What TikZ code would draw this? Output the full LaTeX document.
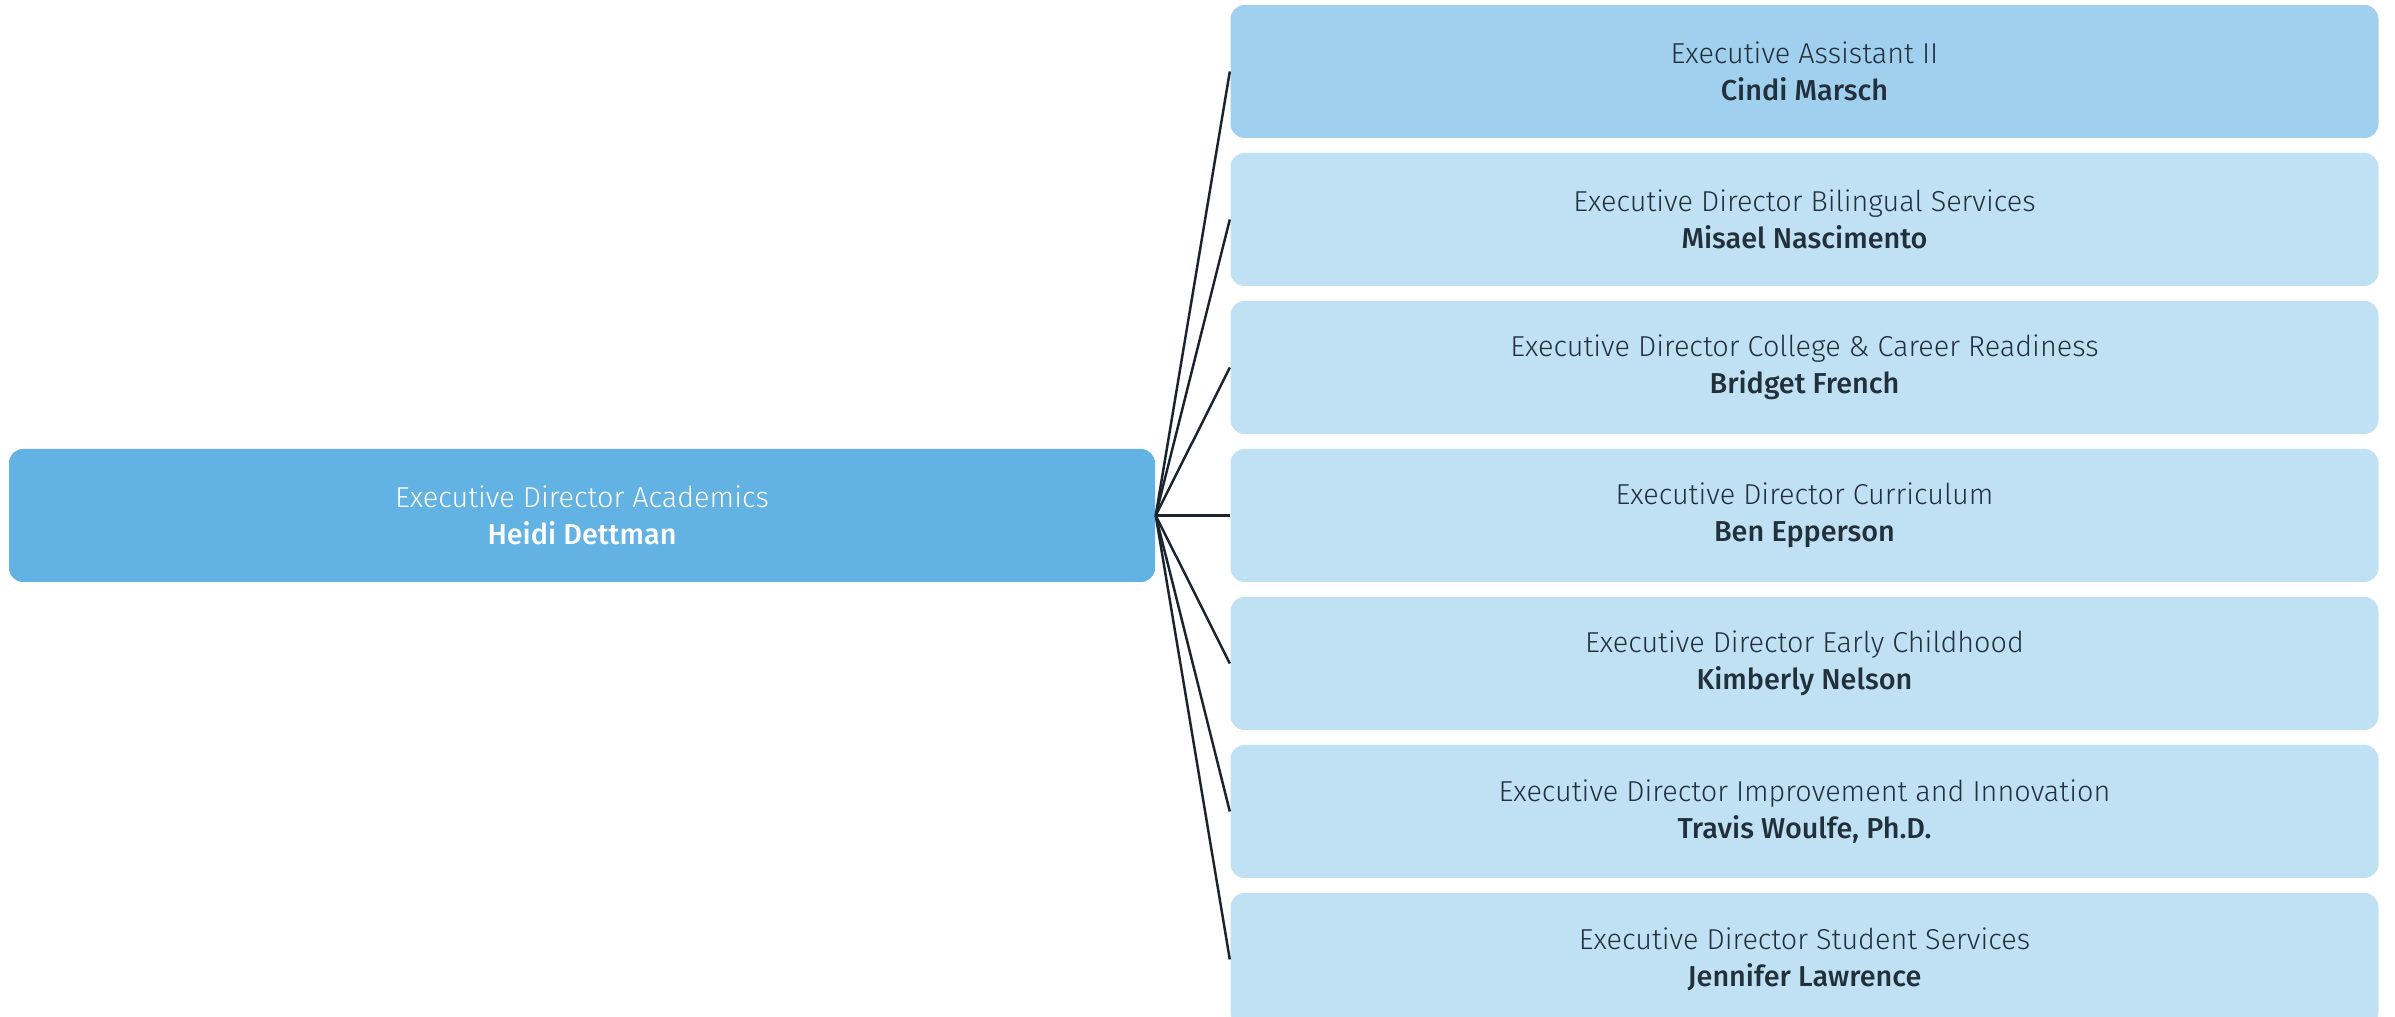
\documentclass[tikz,border=0pt]{standalone}
\usepackage{fontspec}
\setmainfont{Fira Sans}[UprightFont={* Light},BoldFont={* Medium}]
\usepackage{tikz}
\usetikzlibrary{shapes}

\definecolor{rootblue}{HTML}{62B2E3}
\definecolor{assistblue}{HTML}{A0D0EE}
\definecolor{childblue}{HTML}{C0E1F4}
\definecolor{inkdark}{HTML}{22303C}
\definecolor{linkdark}{HTML}{1A242E}

\tikzset{
  orgbox/.style={shape=rectangle,rounded corners=0.14cm,align=center,
    minimum width=11.48cm,minimum height=1.33cm,inner sep=0pt,
    font=\fontsize{8.2}{10.6}\selectfont},
  rootbox/.style={orgbox,minimum width=11.46cm,fill=rootblue,text=white},
  assistbox/.style={orgbox,fill=assistblue,text=inkdark},
  childbox/.style={orgbox,fill=childblue,text=inkdark},
  link/.style={-,draw=linkdark,line width=0.7pt}
}

\begin{document}
\begin{tikzpicture}
\useasboundingbox (0,0) rectangle (23.95,10.17);
\clip (0,0) rectangle (23.95,10.17);
\fill[white] (0,0) rectangle (23.95,10.17);

\node[rootbox] (root) at (5.82,5.015) {Executive Director Academics\\\textbf{Heidi Dettman}};

\node[assistbox] (assist) at (18.045,9.455) {Executive Assistant II\\\textbf{Cindi Marsch}};
\node[childbox] (bilingual) at (18.045,7.975) {Executive Director Bilingual Services\\\textbf{Misael Nascimento}};
\node[childbox] (college) at (18.045,6.495) {Executive Director College \& Career Readiness\\\textbf{Bridget French}};
\node[childbox] (curriculum) at (18.045,5.015) {Executive Director Curriculum\\\textbf{Ben Epperson}};
\node[childbox] (early) at (18.045,3.535) {Executive Director Early Childhood\\\textbf{Kimberly Nelson}};
\node[childbox] (improve) at (18.045,2.055) {Executive Director Improvement and Innovation\\\textbf{Travis Woulfe, Ph.D.}};
\node[childbox] (student) at (18.045,0.575) {Executive Director Student Services\\\textbf{Jennifer Lawrence}};

\path [link] (root.east) edge (assist.west);
\path [link] (root.east) edge (bilingual.west);
\path [link] (root.east) edge (college.west);
\path [link] (root.east) edge (curriculum.west);
\path [link] (root.east) edge (early.west);
\path [link] (root.east) edge (improve.west);
\path [link] (root.east) edge (student.west);
\end{tikzpicture}
\end{document}
